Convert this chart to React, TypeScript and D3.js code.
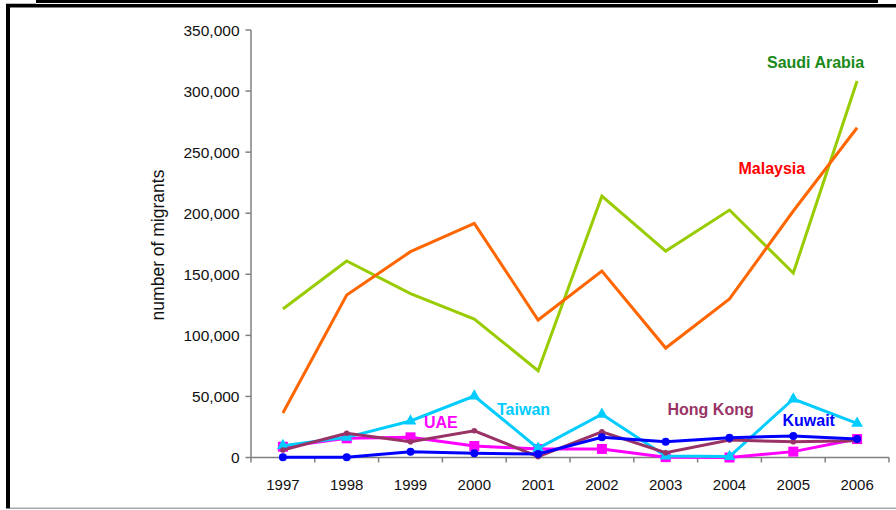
import React from "react";
import * as d3 from "d3";

const years = ["1997", "1998", "1999", "2000", "2001", "2002", "2003", "2004", "2005", "2006"];
const saudiArabia = [121600, 160900, 134100, 113400, 71100, 214000, 169000, 202600, 151000, 308200];
const malaysia = [36400, 133000, 168500, 191700, 112600, 152700, 89600, 129800, 201800, 270000];
const taiwan = [9700, 16500, 29900, 50300, 7500, 35400, 1200, 800, 47900, 28000];
const uae = [8800, 15700, 16500, 9400, 7000, 7000, 300, 0, 4800, 15100];
const hongKong = [6100, 19800, 12900, 21900, 700, 21100, 3900, 14300, 12900, 13800];
const kuwait = [200, 200, 4800, 3400, 2900, 16500, 12900, 16200, 17600, 15100];
const yTicks = [0, 50000, 100000, 150000, 200000, 250000, 300000, 350000];

type Series = { name: string; values: number[]; color: string; marker: string };
const series: Series[] = [
  { name: "Saudi Arabia", values: saudiArabia, color: "#99CC00", marker: "none" },
  { name: "Malaysia", values: malaysia, color: "#FF6600", marker: "none" },
  { name: "UAE", values: uae, color: "#FF00FF", marker: "square" },
  { name: "Taiwan", values: taiwan, color: "#00CCFF", marker: "triangle" },
  { name: "Hong Kong", values: hongKong, color: "#993366", marker: "dot" },
  { name: "Kuwait", values: kuwait, color: "#0000FF", marker: "circle" },
];

const labels = [
  { text: "Saudi Arabia", x: 767, y: 67.5, color: "#1A8A1A" },
  { text: "Malaysia", x: 738.5, y: 174, color: "#FF0000" },
  { text: "UAE", x: 424, y: 428, color: "#FF00FF" },
  { text: "Taiwan", x: 497, y: 415, color: "#00CCFF" },
  { text: "Hong Kong", x: 667.5, y: 415, color: "#993366" },
  { text: "Kuwait", x: 782.5, y: 426, color: "#0000FF" },
];

export default function App() {
  const W = 896, H = 510;
  const x = d3.scaleBand<string>().domain(years).range([251, 889]).paddingInner(0).paddingOuter(0);
  const y = d3.scaleLinear().domain([0, 350000]).range([457.5, 30]);
  const cx = (yr: string) => (x(yr) as number) + x.bandwidth() / 2;
  const line = d3.line<number>().x((_, i) => cx(years[i])).y((v) => y(v));
  const fmt = d3.format(",");
  const font = "Arial, 'Liberation Sans', sans-serif";
  const bounds = d3.range(years.length + 1).map((i) => 251 + i * x.bandwidth());
  const tri = d3.symbol().type(d3.symbolTriangle).size(60)();

  return (
    <div style={{ position: "absolute", left: 0, top: 0 }}>
      <svg width={W} height={H} style={{ display: "block", background: "#fff" }}>
        {/* frame */}
        <rect x={36} y={0} width={842} height={3} fill="#000" />
        <rect x={6} y={3} width={30} height={1} fill="#bbb" />
        <rect x={6} y={4} width={890} height={3.5} fill="#000" />
        <rect x={6} y={4} width={4} height={504.5} fill="#000" />
        <rect x={10} y={507.5} width={886} height={1.5} fill="#aaa" />

        {/* y axis */}
        <line x1={251} x2={251} y1={y(350000)} y2={y(0)} stroke="#808080" strokeWidth={1.5} />
        {yTicks.map((t) => (
          <g key={t}>
            <line x1={245.5} x2={251} y1={y(t)} y2={y(t)} stroke="#808080" strokeWidth={1.5} />
            <text x={239.5} y={y(t)} dy="0.36em" textAnchor="end" fontFamily={font} fontSize={15.5} fill="#111">
              {fmt(t)}
            </text>
          </g>
        ))}
        <text
          transform={`translate(163.5,245) rotate(-90)`}
          textAnchor="middle"
          fontFamily={font}
          fontSize={17.5}
          fill="#111"
        >
          number of migrants
        </text>

        {/* x axis */}
        <line x1={251} x2={889} y1={y(0)} y2={y(0)} stroke="#808080" strokeWidth={1.5} />
        {bounds.map((b, i) => (
          <line key={i} x1={b} x2={b} y1={y(0)} y2={y(0) + 5} stroke="#808080" strokeWidth={1.5} />
        ))}
        {years.map((yr) => (
          <text key={yr} x={cx(yr)} y={490} textAnchor="middle" fontFamily={font} fontSize={15} fill="#111">
            {yr}
          </text>
        ))}

        {/* series */}
        {series.map((s) => (
          <g key={s.name}>
            <path d={line(s.values) || ""} fill="none" stroke={s.color} strokeWidth={3} strokeLinejoin="miter" />
            {s.values.map((v, i) => {
              const px = cx(years[i]);
              const py = y(v);
              if (s.marker === "square")
                return <rect key={i} x={px - 5} y={py - 5} width={10} height={10} fill={s.color} />;
              if (s.marker === "triangle")
                return <path key={i} d={tri || ""} transform={`translate(${px},${py})`} fill={s.color} />;
              if (s.marker === "circle") return <circle key={i} cx={px} cy={py} r={4} fill={s.color} />;
              if (s.marker === "dot") return <circle key={i} cx={px} cy={py} r={2.8} fill={s.color} />;
              return null;
            })}
          </g>
        ))}

        {/* labels */}
        {labels.map((l) => (
          <text key={l.text} x={l.x} y={l.y} fontFamily={font} fontWeight="bold" fontSize={16} fill={l.color}>
            {l.text}
          </text>
        ))}
      </svg>
    </div>
  );
}
